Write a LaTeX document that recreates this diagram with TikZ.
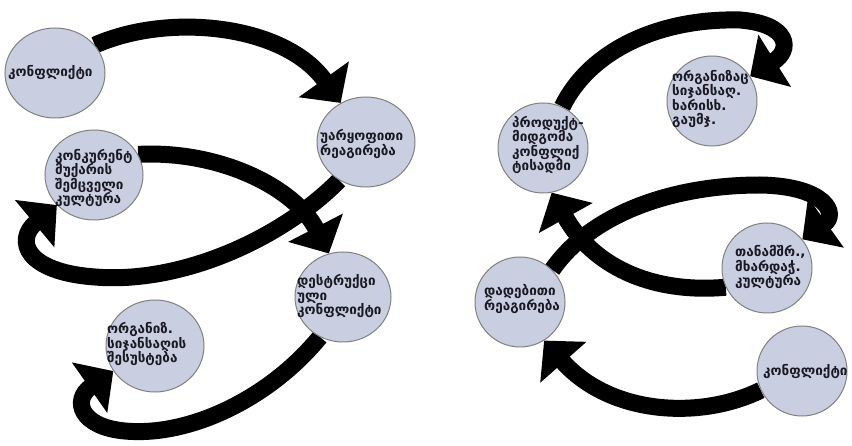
\documentclass[tikz,border=0pt]{standalone}
\usepackage{fontspec}
\newfontfamily\geofont{DejaVu Sans}
\usetikzlibrary{arrows.meta,shapes.geometric}
\definecolor{bubfill}{RGB}{201,207,225}
\definecolor{bubline}{RGB}{128,128,128}
\definecolor{textcol}{RGB}{25,25,35}
\pgfdeclarelayer{bg}
\pgfsetlayers{bg,main}
\begin{document}
\begin{tikzpicture}[x=1pt,y=-1pt,
  bub/.style={ellipse,draw=bubline,fill=bubfill,line width=1pt,inner sep=0pt,minimum height=90pt},
  txt/.style={anchor=west,align=left,inner sep=0pt,font=\geofont\bfseries\fontsize{13.5}{14.5}\selectfont,text=textcol},
  arr/.style={line width=17pt,-{Triangle[width=60pt,length=29pt]}},
]
\useasboundingbox (0,0) rectangle (852,446);
% bubbles
\node[bub,minimum width=100pt] (c1) at (55,73) {};
\node[bub,minimum width=98pt] (c2) at (366,142) {};
\node[bub,minimum width=98pt] (c3) at (94,175) {};
\node[bub,minimum width=96pt] (c4) at (343,297) {};
\node[bub,minimum width=98pt,minimum height=92pt] (c5) at (155,346) {};
\node[bub,minimum width=90pt] (c6) at (543,148) {};
\node[bub,minimum width=90pt] (c7) at (712,101) {};
\node[bub,minimum width=90pt] (c8) at (767,268) {};
\node[bub,minimum width=90pt] (c9) at (520,302) {};
\node[bub,minimum width=90pt] (c10) at (802,371) {};
% texts
\node[txt] (t1) at (8,73) {კონფლიქტი};
\node[txt] (t2) at (320,144) {უარყოფითი\\რეაგირება};
\node[txt] (t3) at (55,178) {კონკურენტ\\მუქარის\\შემცველი\\კულტურა};
\node[txt] (t4) at (297,296) {დესტრუქცი\\ული\\კონფლიქტი};
\node[txt] (t5) at (107,344) {ორგანიზ.\\სიჯანსაღის\\შესუსტება};
\node[txt] (t6) at (512,145) {პროდუქტ-\\მიდგომა\\კონფლიქ\\ტისადმი};
\node[txt] (t7) at (672,99) {ორგანიზაც\\სიჯანსაღ.\\ხარისხ.\\გაუმჯ.};
\node[txt] (t8) at (735,267) {თანამშრ.,\\მხარდაჭ.\\კულტურა};
\node[txt] (t9) at (484,299) {დადებითი\\რეაგირება};
\node[txt] (t10) at (763,372) {კონფლიქტი};
% arrows
\begin{pgfonlayer}{bg}
\draw[arr] (c1.35) .. controls (170,12) and (285,25) .. (c2.123);
\draw[arr] (c2.235) .. controls (280,240) and (180,284) .. (95,277) .. controls (25,272) and (15,240) .. (c3.219);
\draw[arr] (c3.25) .. controls (220,150) and (295,188) .. (c4.108);
\draw[arr] (c4.240) .. controls (270,398) and (190,437) .. (125,431) .. controls (80,427) and (72,400) .. (c5.211);
\draw[arr] (c6.65) .. controls (590,50) and (660,18) .. (740,20) .. controls (790,24) and (792,50) .. (c7.33);
\draw[arr] (c9.45) .. controls (590,215) and (670,185) .. (760,185) .. controls (826,186) and (838,214) .. (c8.39);
\draw[arr] (c8.205) .. controls (650,294) and (592,265) .. (c6.281);
\draw[arr] (c10.205) .. controls (700,420) and (610,415) .. (c9.302);
\end{pgfonlayer}
\end{tikzpicture}
\end{document}
